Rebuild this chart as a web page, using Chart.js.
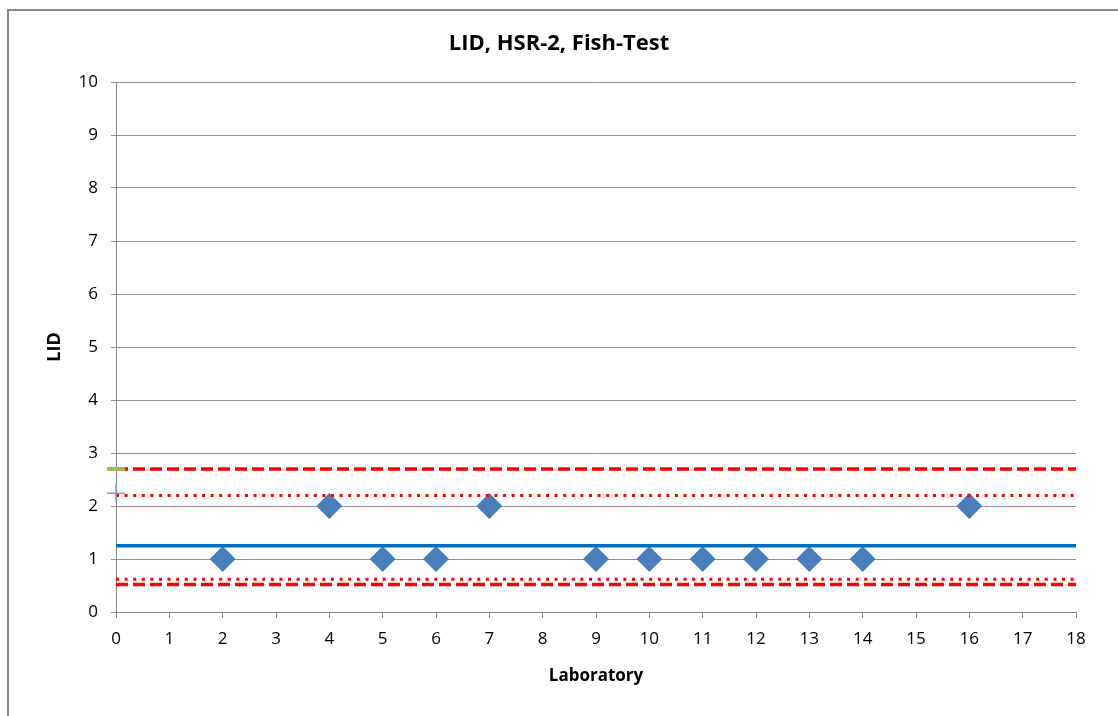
<!DOCTYPE html>
<html>
<head>
<meta charset="utf-8">
<title>LID, HSR-2, Fish-Test</title>
<script src="https://cdn.jsdelivr.net/npm/chart.js@4/dist/chart.umd.min.js"></script>
<style>
  html, body { margin: 0; padding: 0; background: #fff; overflow: hidden; }
  #frame { position: absolute; left: 7px; top: 9px; width: 1200px; height: 800px; border: 2px solid #878787; }
  #wrap { position: absolute; left: 0; top: 0; width: 1118px; height: 716px; }
</style>
</head>
<body>
<div id="frame"></div>
<div id="wrap"><canvas id="chart" width="1118" height="716"></canvas></div>
<script>
// laboratory results
const labs = [2, 4, 5, 6, 7, 9, 10, 11, 12, 13, 14, 16];
const lidValues = [1, 2, 1, 1, 2, 1, 1, 1, 1, 1, 1, 2];

// reference lines (value across the whole lab range)
const lineSpan = [0, 18];
const meanLine = 1.25;
const upperDashed = 2.7;
const upperDotted = 2.2;
const lowerDotted = 0.62;
const lowerDashed = 0.52;

const xTicks = [0, 18, 1];   // min, max, step
const yTicks = [0, 10, 1];

const red = '#FF0000';
const font = 'Open Sans';

function hline(v) {
  return lineSpan.map(x => ({ x, y: v }));
}

const ctx = document.getElementById('chart');
new Chart(ctx, {
  type: 'scatter',
  data: {
    datasets: [
      { // green marker at lab 0
        data: [{ x: 0, y: upperDashed }],
        pointStyle: 'line', pointRadius: 9, borderWidth: 4,
        borderColor: '#9BBB59', backgroundColor: '#9BBB59', clip: false
      },
      { // blue cross at lab 0
        data: [{ x: 0, y: upperDotted + 0.04 }],
        pointStyle: 'cross', pointRadius: 9, borderWidth: 1.5,
        borderColor: '#7F9ED3', backgroundColor: '#7F9ED3', clip: false
      },
      {
        data: hline(upperDashed), showLine: true, pointRadius: 0,
        borderColor: red, borderWidth: 3.5, borderDash: [12, 5]
      },
      {
        data: hline(upperDotted), showLine: true, pointRadius: 0,
        borderColor: red, borderWidth: 3, borderDash: [3, 5.6]
      },
      {
        data: hline(meanLine), showLine: true, pointRadius: 0,
        borderColor: '#0070C0', borderWidth: 3.5
      },
      {
        data: hline(lowerDotted), showLine: true, pointRadius: 0,
        borderColor: red, borderWidth: 3, borderDash: [3, 5.6]
      },
      {
        data: hline(lowerDashed), showLine: true, pointRadius: 0,
        borderColor: red, borderWidth: 3.5, borderDash: [12, 5]
      },
      {
        data: labs.map((x, i) => ({ x, y: lidValues[i] })),
        pointStyle: 'rectRot', pointRadius: 13, borderWidth: 0,
        backgroundColor: '#4A7EBB', borderColor: '#4A7EBB'
      }
    ]
  },
  options: {
    responsive: false,
    animation: false,
    events: [],
    layout: { padding: 0 },
    plugins: {
      legend: { display: false },
      tooltip: { enabled: false },
      title: {
        display: true,
        text: 'LID, HSR-2, Fish-Test',
        color: '#000',
        font: { family: font, size: 22, weight: 'bold' },
        padding: { top: 31, bottom: 24.6 }
      }
    },
    scales: {
      x: {
        type: 'linear',
        min: xTicks[0], max: xTicks[1],
        ticks: { stepSize: xTicks[2], color: '#000', padding: 11, font: { family: font, size: 17 } },
        grid: { drawOnChartArea: false, drawTicks: true, tickLength: 6, color: '#878787' },
        border: { color: '#878787', width: 1 },
        title: {
          display: true, text: 'Laboratory', color: '#000',
          font: { family: font, size: 17, weight: 'bold' },
          padding: { top: 0, bottom: 30 }
        },
        afterFit: s => { s.height = 104; s.paddingRight = 42; }
      },
      y: {
        type: 'linear',
        min: yTicks[0], max: yTicks[1],
        ticks: { stepSize: yTicks[2], color: '#000', padding: 13, font: { family: font, size: 17 } },
        grid: { color: '#8E8E8E', tickLength: 5, lineWidth: 1 },
        border: { color: '#878787', width: 1 },
        title: {
          display: true, text: 'LID', color: '#000',
          font: { family: font, size: 18, weight: 'bold' },
          padding: { top: 44, bottom: 0 }
        },
        afterFit: s => { s.width = 116; }
      }
    }
  }
});
</script>
</body>
</html>
